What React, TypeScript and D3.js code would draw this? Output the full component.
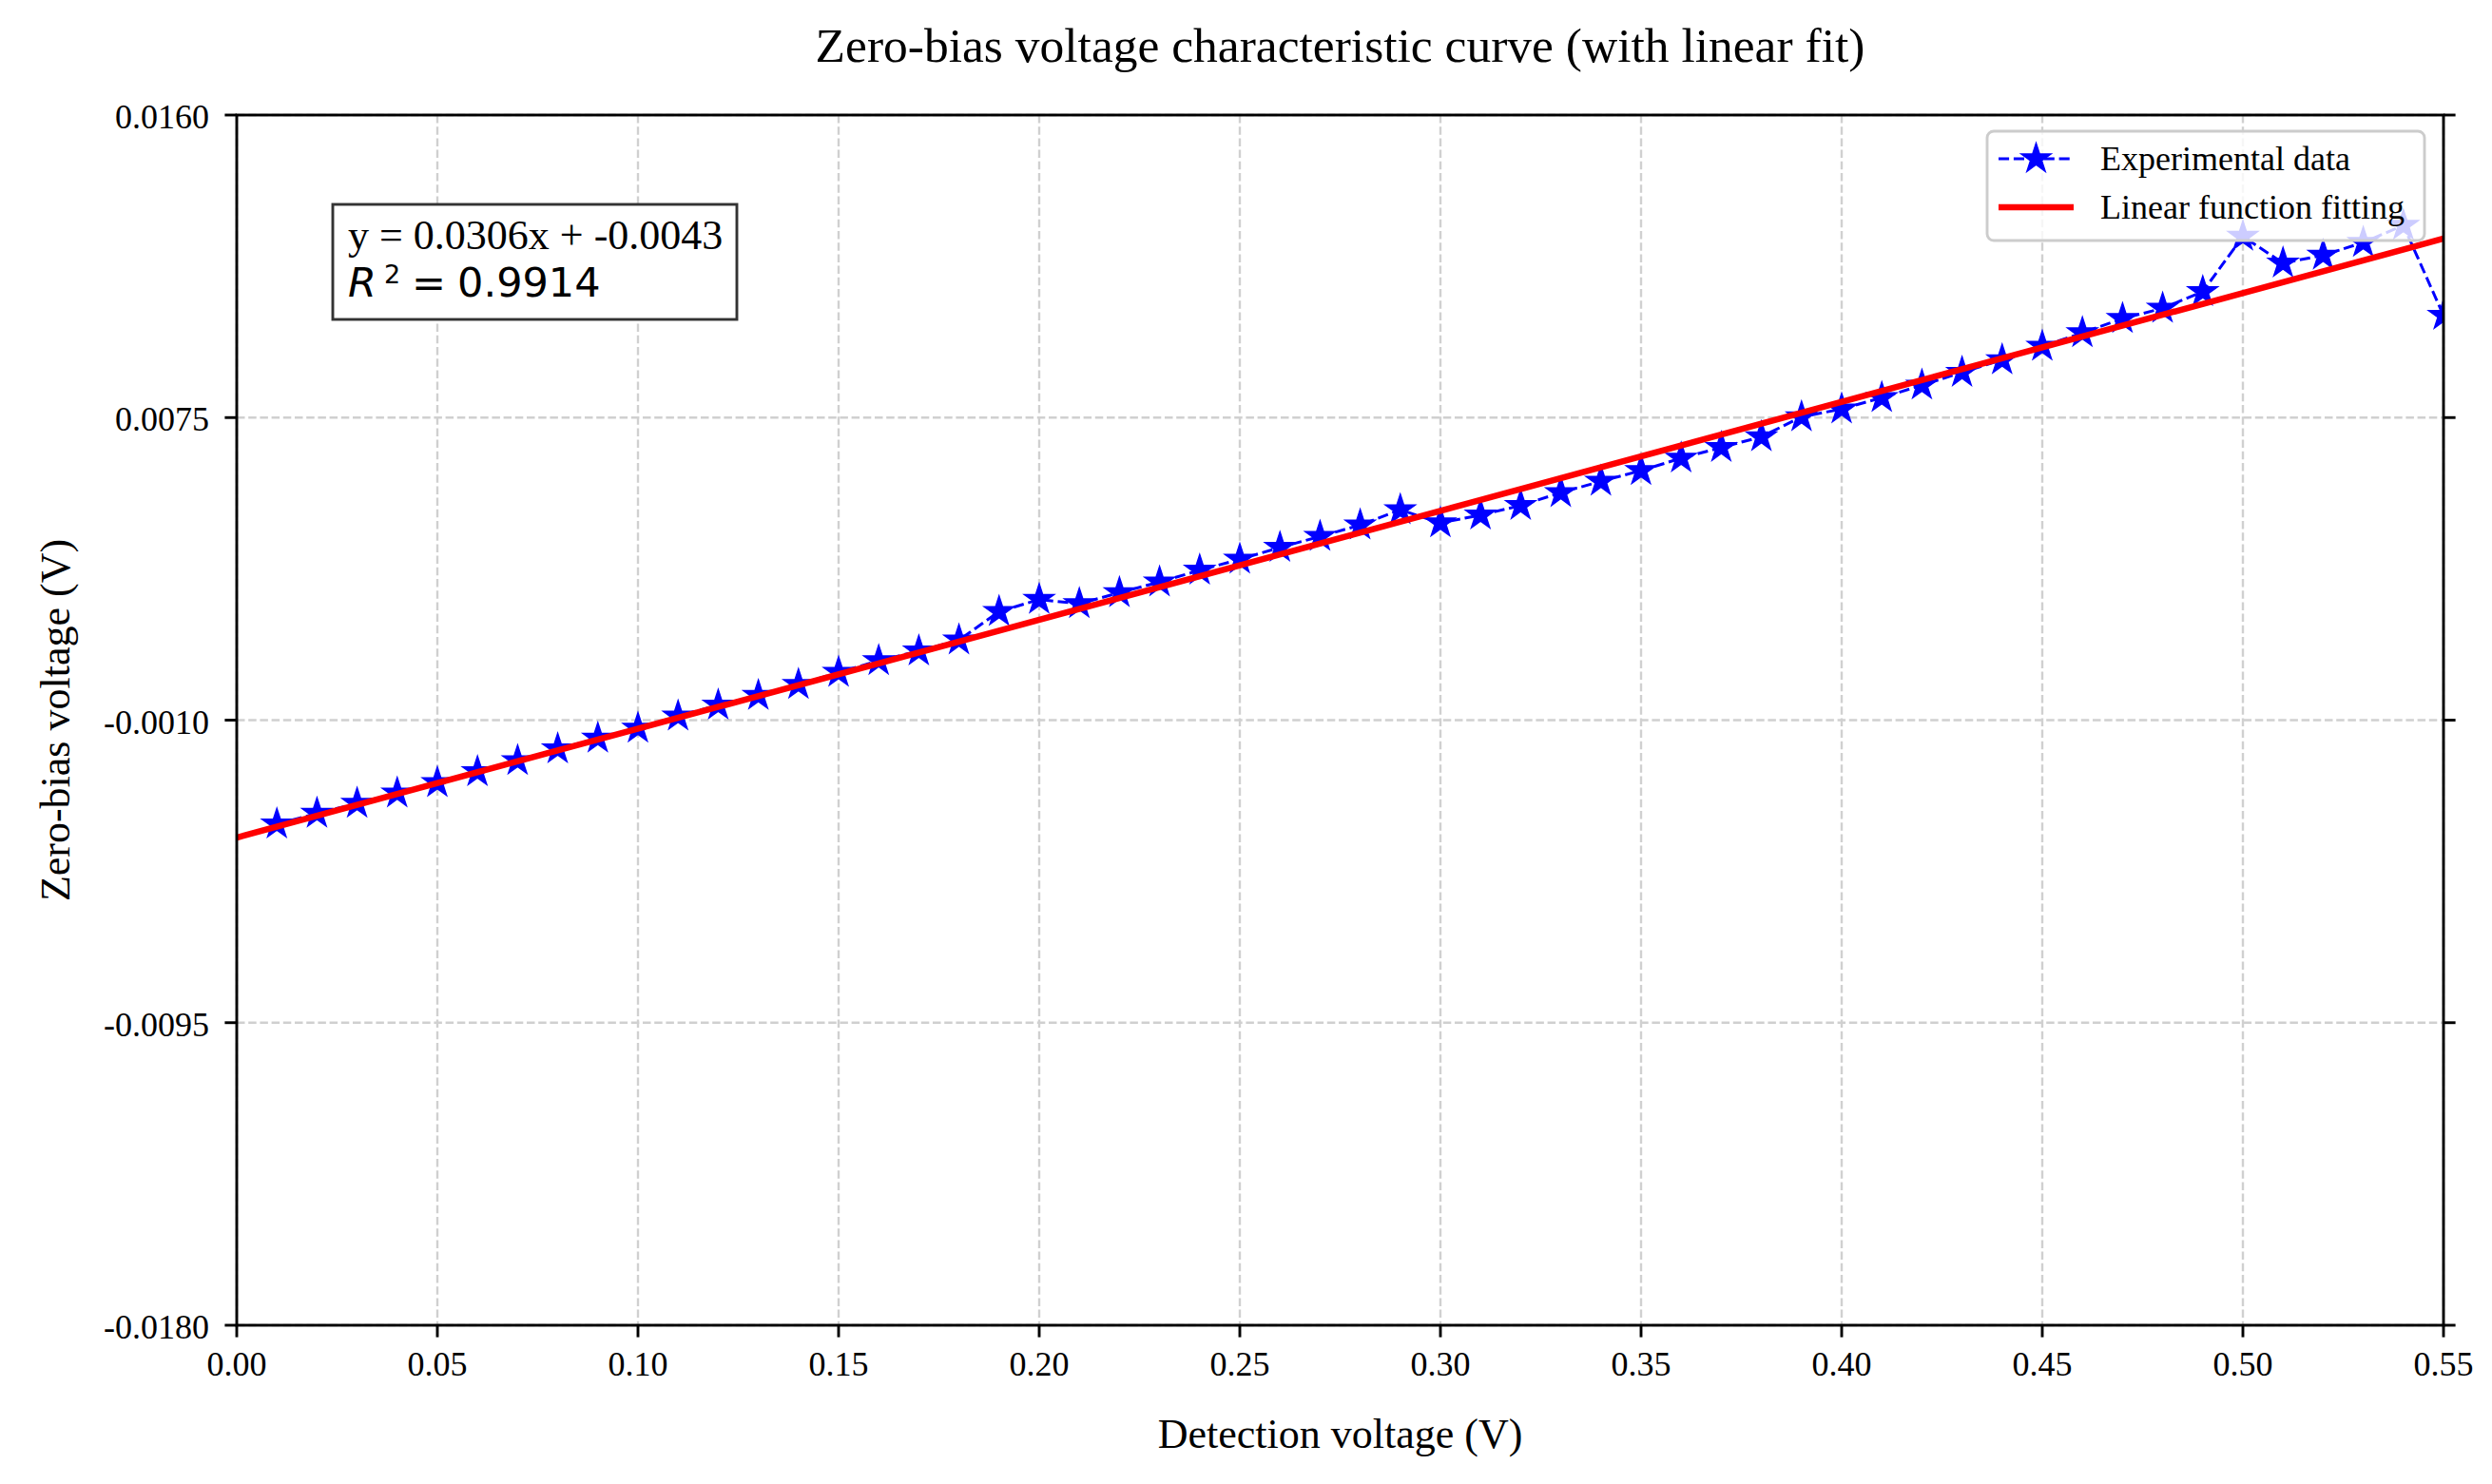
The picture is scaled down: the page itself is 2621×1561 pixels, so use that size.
import * as d3 from 'd3';

// detection voltage (V) vs zero-bias voltage (V)
const DETECTION_V = [
  0.01, 0.02, 0.03, 0.04, 0.05, 0.06, 0.07, 0.08, 0.09, 0.1,
  0.11, 0.12, 0.13, 0.14, 0.15, 0.16, 0.17, 0.18, 0.19, 0.2,
  0.21, 0.22, 0.23, 0.24, 0.25, 0.26, 0.27, 0.28, 0.29, 0.3,
  0.31, 0.32, 0.33, 0.34, 0.35, 0.36, 0.37, 0.38, 0.39, 0.4,
  0.41, 0.42, 0.43, 0.44, 0.45, 0.46, 0.47, 0.48, 0.49, 0.5,
  0.51, 0.52, 0.53, 0.54, 0.55,
];
const ZERO_BIAS_V = [
  -0.00392, -0.00362, -0.00334, -0.00305, -0.00276, -0.00245, -0.00214, -0.00181, -0.00151, -0.00123,
  -0.00089, -0.00058, -0.00031, 0.0, 0.00034, 0.00067, 0.00094, 0.00125, 0.00205, 0.00239,
  0.00227, 0.00258, 0.00288, 0.00321, 0.00352, 0.00385, 0.00416, 0.00448, 0.00491, 0.00454,
  0.00476, 0.00503, 0.00539, 0.00571, 0.00601, 0.00636, 0.00666, 0.00696, 0.00752, 0.00774,
  0.00806, 0.00841, 0.00877, 0.00912, 0.0095, 0.00988, 0.01028, 0.01057, 0.01104, 0.01259,
  0.01184, 0.01206, 0.01242, 0.0129, 0.01037,
];

const FIT_SLOPE = 0.0306;
const FIT_INTERCEPT = -0.0043;
const R_SQUARED = '0.9914';

const X_TICKS = [0, 0.05, 0.1, 0.15, 0.2, 0.25, 0.3, 0.35, 0.4, 0.45, 0.5, 0.55];
const X_TICK_LABELS = ['0.00', '0.05', '0.10', '0.15', '0.20', '0.25', '0.30', '0.35', '0.40', '0.45', '0.50', '0.55'];
const Y_TICKS = [0.016, 0.0075, -0.001, -0.0095, -0.018];
const Y_TICK_LABELS = ['0.0160', '0.0075', '-0.0010', '-0.0095', '-0.0180'];

const W = 2621;
const H = 1561;
const margin = { top: 121, right: 51, bottom: 167, left: 249 };
const serif = '"Liberation Serif", "Times New Roman", serif';
const sans = '"DejaVu Sans", sans-serif';

export default function App() {
  const iw = W - margin.left - margin.right;
  const ih = H - margin.top - margin.bottom;

  const x = d3.scaleLinear().domain([0, 0.55]).range([0, iw]);
  const y = d3.scaleLinear().domain([-0.018, 0.016]).range([ih, 0]);

  const pts = DETECTION_V.map((d, i) => [d, ZERO_BIAS_V[i]] as [number, number]);
  const line = d3.line<[number, number]>().x((d) => x(d[0])).y((d) => y(d[1]));
  const fitPts: [number, number][] = [0, 0.55].map((v) => [v, FIT_SLOPE * v + FIT_INTERCEPT]);
  const star = d3.symbol().type(d3.symbolStar).size(300)()!;

  const tickLen = 12.6;

  return (
    <div style={{ position: 'fixed', left: 0, top: 0 }}>
      <svg width={W} height={H} style={{ display: 'block', background: '#fff' }}>
        <defs>
          <clipPath id="plot-clip">
            <rect x={0} y={0} width={iw} height={ih} />
          </clipPath>
        </defs>

        {/* Title */}
        <text x={margin.left + iw / 2} y={65} textAnchor="middle" fontFamily={serif} fontSize={51.5} fill="#000">
          Zero-bias voltage characteristic curve (with linear fit)
        </text>

        <g transform={`translate(${margin.left},${margin.top})`}>
          {/* Grid */}
          {X_TICKS.map((t) => (
            <line key={`gx${t}`} x1={x(t)} x2={x(t)} y1={0} y2={ih}
              stroke="#d0d0d0" strokeWidth={2.4} strokeDasharray="8.5 3.7" />
          ))}
          {Y_TICKS.map((t) => (
            <line key={`gy${t}`} x1={0} x2={iw} y1={y(t)} y2={y(t)}
              stroke="#d0d0d0" strokeWidth={2.4} strokeDasharray="8.5 3.7" />
          ))}

          <g clipPath="url(#plot-clip)">
            {/* Experimental data */}
            <path d={line(pts)!} fill="none" stroke="#0000ff" strokeWidth={3} strokeDasharray="11.1 4.8" />
            {pts.map((p, i) => (
              <path key={i} d={star} transform={`translate(${x(p[0])},${y(p[1])})`} fill="#0000ff" stroke="#0000ff" strokeWidth={1.5} />
            ))}
            {/* Linear fit */}
            <path d={line(fitPts)!} fill="none" stroke="#ff0000" strokeWidth={6.5} />
          </g>

          {/* Spines */}
          <rect x={0} y={0} width={iw} height={ih} fill="none" stroke="#000" strokeWidth={2.9} />

          {/* X ticks */}
          {X_TICKS.map((t, i) => (
            <g key={`xt${t}`} transform={`translate(${x(t)},${ih})`}>
              <line y1={0} y2={tickLen} stroke="#000" strokeWidth={2.9} />
              <text y={52.5} textAnchor="middle" fontFamily={serif} fontSize={36} fill="#000">
                {X_TICK_LABELS[i]}
              </text>
            </g>
          ))}

          {/* Y ticks left + right */}
          {Y_TICKS.map((t, i) => (
            <g key={`yt${t}`} transform={`translate(0,${y(t)})`}>
              <line x1={-tickLen} x2={0} stroke="#000" strokeWidth={2.9} />
              <line x1={iw} x2={iw + tickLen} stroke="#000" strokeWidth={2.9} />
              <text x={-29} y={14} textAnchor="end" fontFamily={serif} fontSize={36} fill="#000">
                {Y_TICK_LABELS[i]}
              </text>
            </g>
          ))}

          {/* Fit equation box */}
          <g transform="translate(101,94)">
            <rect x={0} y={0} width={425} height={121} fill="#fff" stroke="#333" strokeWidth={2.9} />
            <text x={16} y={47} fontFamily={serif} fontSize={44} fill="#000">
              y = {FIT_SLOPE.toFixed(4)}x + {FIT_INTERCEPT.toFixed(4)}
            </text>
            <text x={16} y={97} fontFamily={sans} fontSize={43} fill="#000">
              <tspan fontStyle="italic">R</tspan>
              <tspan fontSize={27} dy={-14} dx={8}>2</tspan>
              <tspan dy={14} dx={12}>=</tspan>
              <tspan dx={12}>{R_SQUARED}</tspan>
            </text>
          </g>

          {/* Legend */}
          <g transform={`translate(${2090 - margin.left},${138 - margin.top})`}>
            <rect x={0} y={0} width={460} height={115} rx={7} fill="#fff" fillOpacity={0.8} stroke="#cccccc" strokeWidth={2.9} />
            <line x1={12} x2={91} y1={29} y2={29} stroke="#0000ff" strokeWidth={3} strokeDasharray="11.1 4.8" />
            <path d={star} transform="translate(51.5,29)" fill="#0000ff" stroke="#0000ff" strokeWidth={1.5} />
            <text x={119} y={41} fontFamily={serif} fontSize={36} fill="#000">Experimental data</text>
            <line x1={12} x2={91} y1={80} y2={80} stroke="#ff0000" strokeWidth={6.5} />
            <text x={119} y={92} fontFamily={serif} fontSize={36} fill="#000">Linear function fitting</text>
          </g>
        </g>

        {/* Axis labels */}
        <text x={margin.left + iw / 2} y={1523} textAnchor="middle" fontFamily={serif} fontSize={44} fill="#000">
          Detection voltage (V)
        </text>
        <text transform={`translate(73,${margin.top + ih / 2}) rotate(-90)`} textAnchor="middle" fontFamily={serif} fontSize={44} fill="#000">
          Zero-bias voltage (V)
        </text>
      </svg>
    </div>
  );
}
